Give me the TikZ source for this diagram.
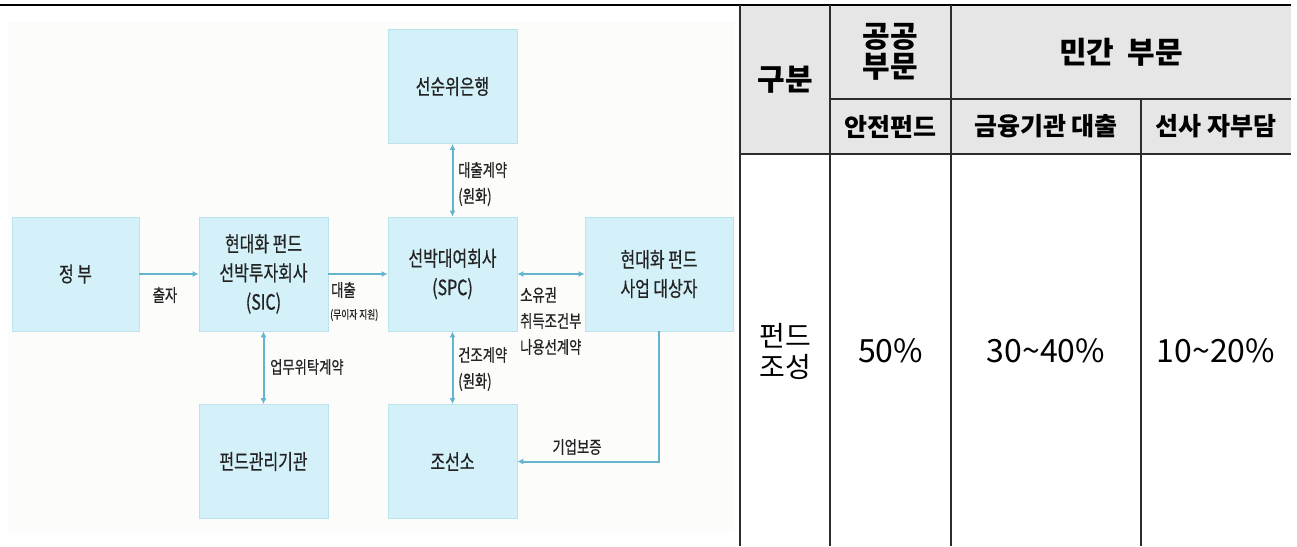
\documentclass[tikz,border=0pt]{standalone}
\usepackage{fontspec}
\setmainfont{Noto Sans CJK KR}
\newfontfamily\dg[FakeStretch=0.76,FakeBold=0.6]{Noto Sans CJK KR}
\usetikzlibrary{arrows.meta}
\definecolor{boxfill}{RGB}{212,241,249}
\definecolor{boxline}{RGB}{188,226,238}
\definecolor{arrc}{RGB}{100,180,208}
\definecolor{dtext}{RGB}{35,35,35}
\definecolor{hdr}{RGB}{230,230,230}
\definecolor{tline}{RGB}{45,45,45}
\definecolor{bgc}{RGB}{252,252,250}
\begin{document}
\begin{tikzpicture}[x=1pt,y=-1pt,
  box/.style={rectangle, fill=boxfill, draw=boxline, line width=0.8, minimum width=129, minimum height=114, inner sep=0, align=center, font=\dg\fontsize{21}{29}\selectfont, text=dtext},
  lbl/.style={anchor=west, inner sep=0, align=left, font=\dg\fontsize{17.5}{27}\selectfont, text=dtext},
  conn/.style={draw=arrc, line width=2, -{Latex[length=6,width=6]}},
  both/.style={draw=arrc, line width=2, {Latex[length=6,width=6]}-{Latex[length=6,width=6]}},
  tl/.style={draw=tline, line width=1.5},
  th1/.style={inner sep=0, align=center, font=\bfseries\fontsize{30}{30}\selectfont},
  th2/.style={inner sep=0, align=center, font=\bfseries\fontsize{25}{28}\selectfont},
  td/.style={inner sep=0, align=center, font=\fontsize{32}{33}\selectfont}]
\useasboundingbox (0,0) rectangle (1297,546);
% diagram background
\fill[bgc] (8,22) rectangle (735,532);
% boxes
\node[box] (gov)  at (75.5,274) [minimum width=127] {정 부};
\node[box] (sic)  at (263.5,274) {현대화 펀드\\선박투자회사\\(SIC)};
\node[box] (spc)  at (452.5,274) {선박대여회사\\(SPC)};
\node[box] (bank) at (452.5,86.5) {선순위은행};
\node[box] (biz)  at (659,274) [minimum width=148] {현대화 펀드\\사업 대상자};
\node[box] (mgr)  at (263.5,461.5) {펀드관리기관};
\node[box] (yard) at (452.5,461.5) {조선소};
% connectors
\draw[conn] (gov) -- (sic);
\draw[conn] (sic) -- (spc);
\draw[both] (spc) -- (biz);
\draw[both] (bank) -- (spc);
\draw[both] (sic) -- (mgr);
\draw[both] (spc) -- (yard);
\draw[conn] (biz.south) |- (yard.east);
% labels
\node[lbl, anchor=center] (l1) at (165,295) {출자};
\node[lbl] (l2) at (331,290) {대출};
\node[lbl, font=\dg\fontsize{11.5}{12}\selectfont] (l2b) at (330,315) {(무이자 지원)};
\node[lbl] (l3) at (458,170) {대출계약};
\node[lbl] (l3b) at (458,197) {(원화)};
\node[lbl] (l4) at (520,295) {소유권};
\node[lbl] (l4b) at (520,321) {취득조건부};
\node[lbl] (l4c) at (520,347) {나용선계약};
\node[lbl] (l5) at (270,367) {업무위탁계약};
\node[lbl] (l6) at (458,355) {건조계약};
\node[lbl] (l6b) at (458,382) {(원화)};
\node[lbl, anchor=center] (l7) at (577,447) {기업보증};
% table
\fill[hdr] (740,5) rectangle (1291,154);
\draw[black, line width=2.5] (0,5) -- (1291,5);
\draw[tl] (740,5) -- (740,546);
\draw[tl] (830,5) -- (830,546);
\draw[tl] (951,5) -- (951,546);
\draw[tl] (1141,99) -- (1141,546);
\draw[tl] (830,99) -- (1291,99);
\draw[tl] (740,154) -- (1291,154);
\node[th1] (h1) at (785,79.5) {구분};
\node[th1] (h2) at (890.5,52) {공공\\부문};
\node[th1] (h3) at (1121,52) {민간\hspace{0.45em}부문};
\node[th2] (h4) at (890.5,126.5) {안전펀드};
\node[th2] (h5) at (1046,126.5) {금융기관 대출};
\node[th2] (h6) at (1216,126.5) {선사 자부담};
\node[td, font=\fontsize{28}{31}\selectfont] (r0) at (785,351) {펀드\\조성};
\node[td] (r1) at (890.5,351) {50\%};
\node[td] (r2) at (1046,351) {30\char`~40\%};
\node[td] (r3) at (1216,351) {10\char`~20\%};
\end{tikzpicture}
\end{document}
